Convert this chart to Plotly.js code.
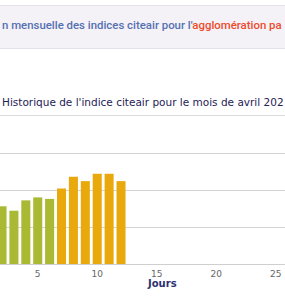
<!DOCTYPE html>
<html>
<head>
<meta charset="utf-8">
<script src="https://cdn.plot.ly/plotly-3.0.1.min.js"></script>
<style>
  html, body { margin: 0; padding: 0; background: #ffffff; overflow: hidden; }
  #chart { width: 285px; height: 300px; }
</style>
</head>
<body>
<div id="chart"></div>
<script>
// ---- data ----
const days = [1, 2, 3, 4, 5, 6, 7, 8, 9, 10, 11, 12];
const indexValues = [40, 39, 36, 43, 45, 44, 51, 59, 56, 61, 61, 56];
const xTickValues = [5, 10, 15, 20, 25];
const xTickLabels = ["5", "10", "15", "20", "25"];
const yGridValues = [0, 25, 50, 75, 100];
const headerBlue = "n mensuelle des indices citeair pour l'";
const headerRed = "agglomération pa";
const chartTitle = "Historique de l'indice citeair pour le mois de avril 202";
const xAxisTitle = "Jours";

// ---- styling helpers ----
const W = 285, H = 300, T = 116, B = 36;
const GREEN = '#a9b934', ORANGE = '#e9a90d';
function colourFor(v) { return v > 50 ? ORANGE : GREEN; }
function py(p) { return (H - B - p) / (H - T - B); }   // pixel y -> paper y
function px(p) { return p / W; }                        // pixel x -> paper x

const trace = {
  type: 'bar',
  x: days,
  y: indexValues,
  marker: { color: indexValues.map(colourFor), line: { width: 0 } },
  hoverinfo: 'x+y'
};

const layout = {
  width: W, height: H,
  margin: { l: 0, r: 0, t: T, b: B, pad: 0 },
  paper_bgcolor: '#ffffff',
  plot_bgcolor: '#ffffff',
  showlegend: false,
  bargap: 0.24,
  xaxis: {
    range: [1.83, 25.78],
    tickmode: 'array', tickvals: xTickValues, ticktext: xTickLabels,
    ticks: '', showgrid: false, zeroline: false,
    showline: false,
    ticklabelstandoff: 3,
    tickfont: { family: 'DejaVu Sans', size: 9, color: '#666666' },
    fixedrange: true
  },
  yaxis: {
    range: [0, 100],
    tickmode: 'array', tickvals: yGridValues,
    showticklabels: false, ticks: '',
    showgrid: true, gridcolor: '#d4d4d4', gridwidth: 1,
    zeroline: true, zerolinecolor: '#cfcfcf', zerolinewidth: 1,
    fixedrange: true
  },
  shapes: [
    { type: 'rect', xref: 'paper', yref: 'paper', x0: -0.02, x1: 1.02, y0: py(48.5), y1: py(5.5),
      fillcolor: '#f4f2f7', line: { color: '#e4e2e8', width: 1 }, layer: 'below' },
    { type: 'line', xref: 'paper', yref: 'paper', x0: -0.02, x1: 1.02, y0: py(115.5), y1: py(115.5),
      line: { color: '#d9d9d9', width: 1 } }
  ],
  annotations: [
    { xref: 'paper', yref: 'paper', x: px(0), y: py(24.5), xanchor: 'left', yanchor: 'middle',
      showarrow: false,
      text: headerBlue + '<span style="color:#ee4b2b">' + headerRed + '</span>',
      font: { family: 'Roboto', size: 11.4, color: '#5570b2', weight: 500 } },
    { xref: 'paper', yref: 'paper', x: px(0), y: py(101.5), xanchor: 'left', yanchor: 'middle',
      showarrow: false, text: chartTitle,
      font: { family: 'DejaVu Sans', size: 10.5, color: '#1f2157' } },
    { xref: 'paper', yref: 'paper', x: px(161.5), y: py(283), xanchor: 'center', yanchor: 'middle',
      showarrow: false, text: '<b>' + xAxisTitle + '</b>',
      font: { family: 'DejaVu Sans', size: 10, color: '#2c3170' } }
  ]
};

Plotly.newPlot('chart', [trace], layout, { displayModeBar: false, staticPlot: true });
</script>
</body>
</html>
